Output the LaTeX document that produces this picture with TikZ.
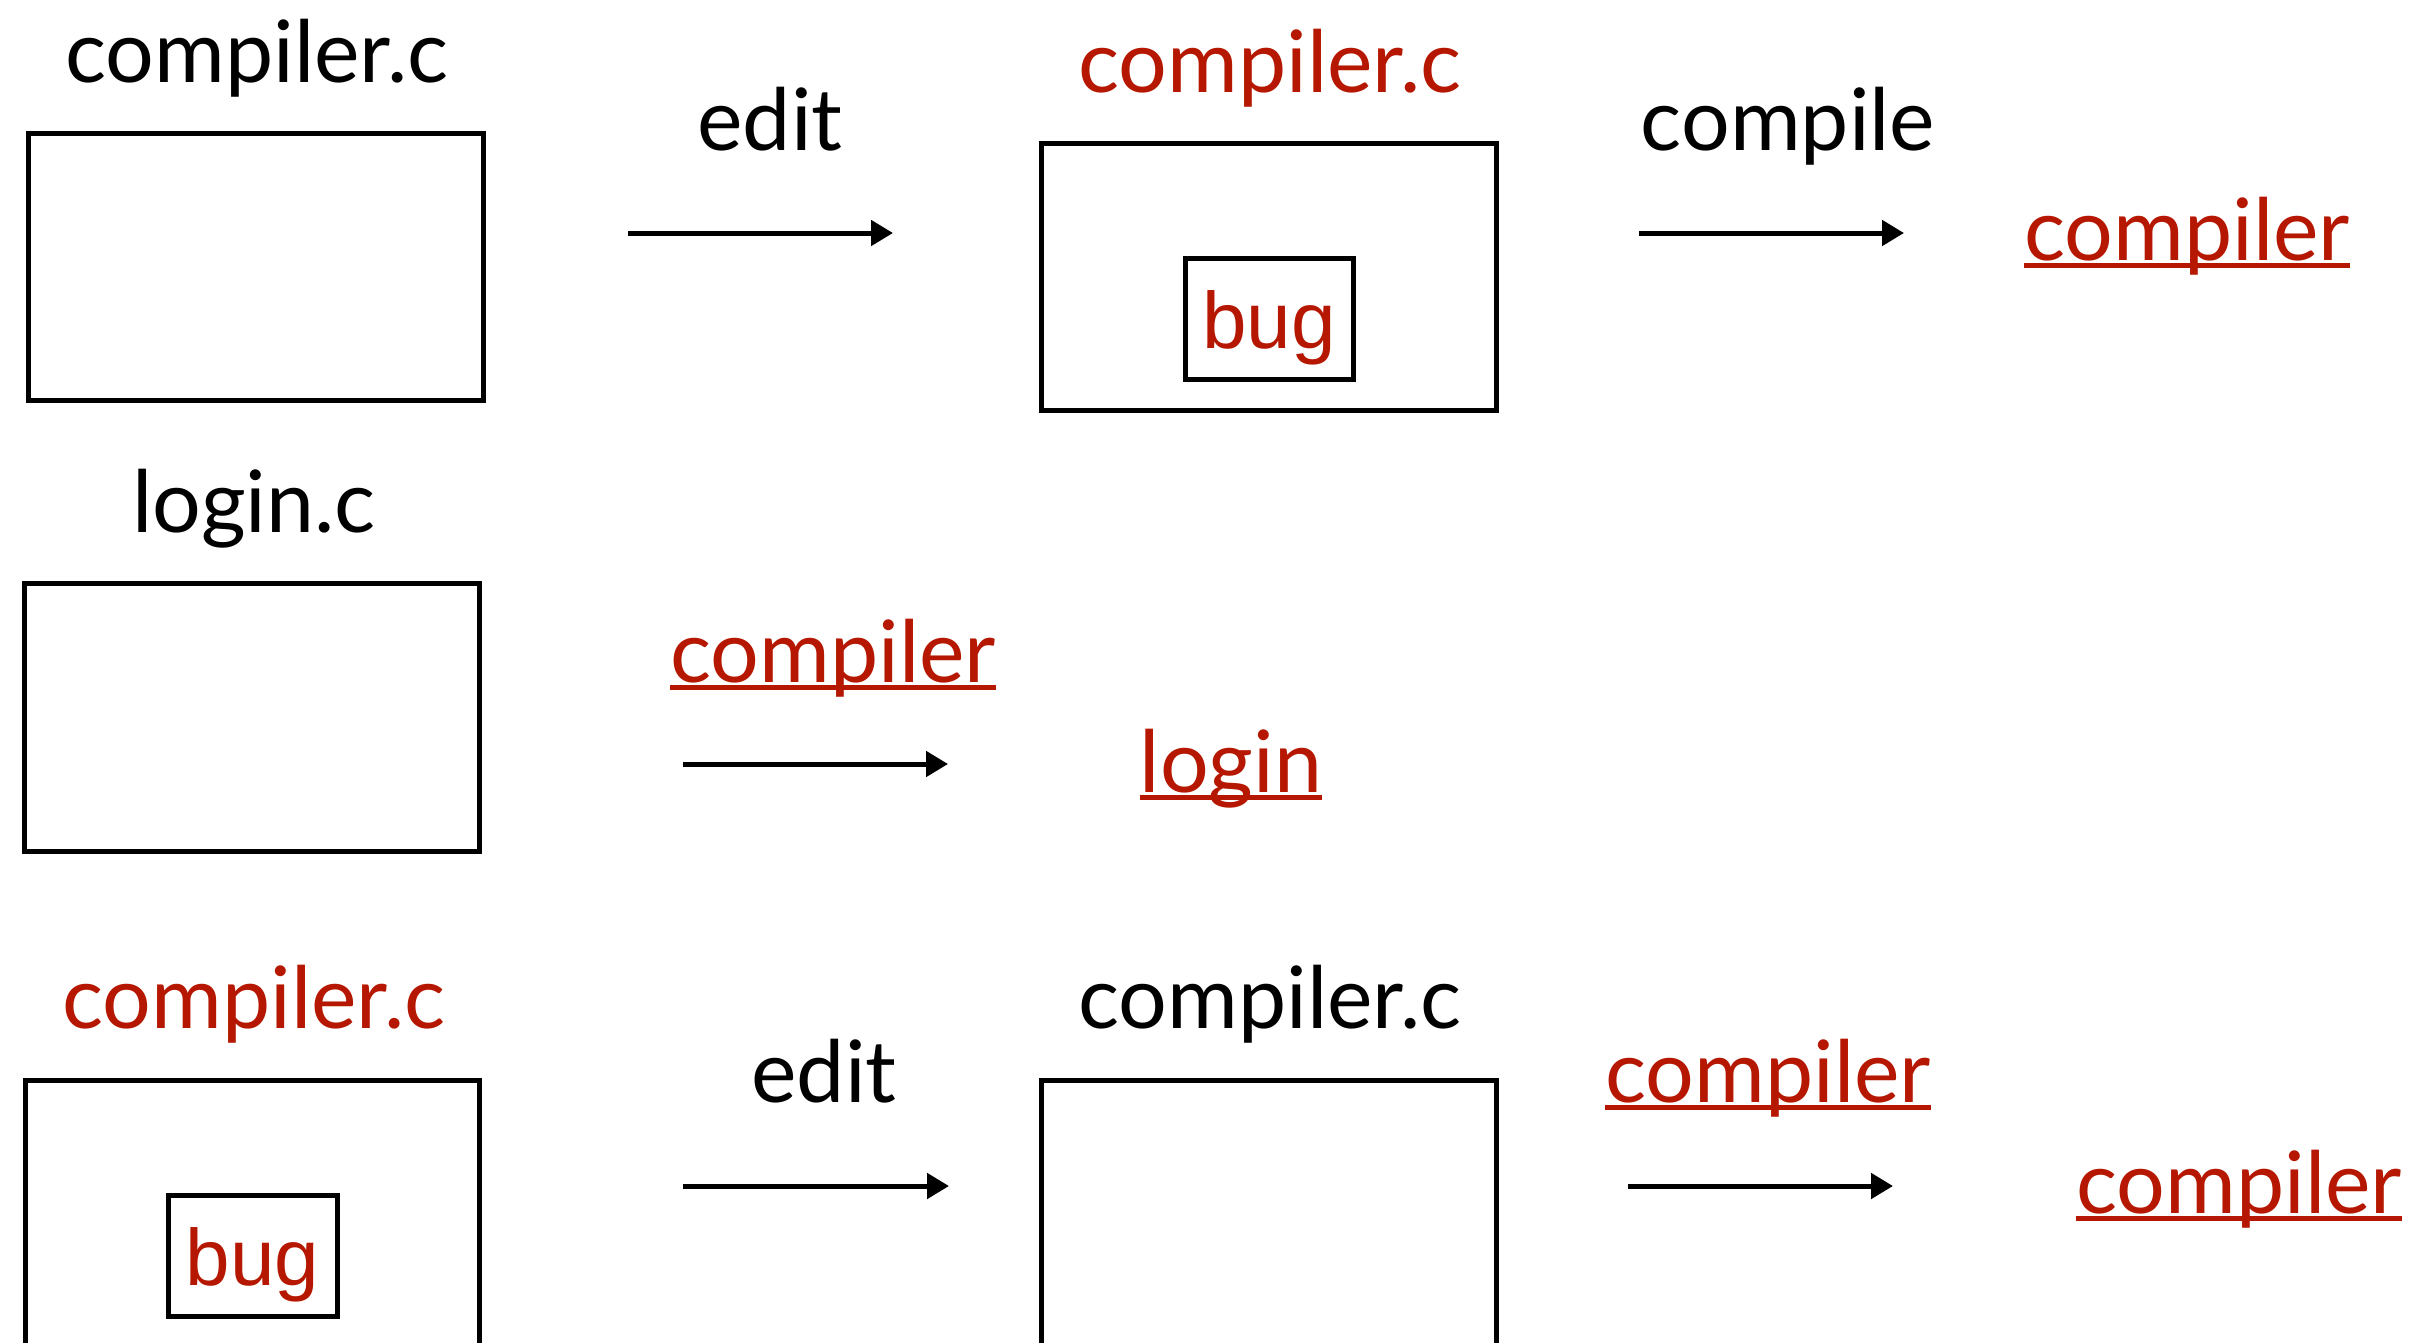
\documentclass[tikz,border=0pt]{standalone}
\usepackage{fontspec}
\setmainfont{Lato}
\newfontfamily\bugfont{Liberation Sans}
\usetikzlibrary{arrows.meta}
\definecolor{srcred}{RGB}{181,23,0}
\tikzset{
  lbl/.style={inner sep=0pt, anchor=base, font=\fontsize{86}{100}\selectfont},
  redlbl/.style={lbl, text=srcred},
  filebox/.style={draw=black, line width=5pt, rectangle, inner sep=0pt, minimum width=455pt, minimum height=267pt},
  bugbox/.style={draw=black, line width=5pt, rectangle, inner sep=0pt, minimum width=168pt, minimum height=121pt},
  buglbl/.style={inner sep=0pt, anchor=base, text=srcred, font=\bugfont\fontsize{80}{90}\selectfont},
  flow/.style={line width=5pt, -{Triangle[length=22pt,width=25pt]}},
  ulline/.style={draw=srcred, line width=5pt}
}
\begin{document}
\begin{tikzpicture}[x=1pt,y=-1pt]
\useasboundingbox (0,0) rectangle (2428,1342);
\fill[white] (0,0) rectangle (2428,1342);
\clip (0,0) rectangle (2428,1342);
% ---------- row 1
\node[lbl] (t1) at (257,82) {compiler.c};
\node[filebox] (box1) at (255.5,266.5) {};
\node[lbl] (e1) at (770,150) {edit};
\coordinate (a1s) at (628,233);
\coordinate (a1e) at (893,233);
\draw[flow] (a1s) -- (a1e);
\node[redlbl] (t2) at (1270,92) {compiler.c};
\node[filebox] (box2) at (1268.5,276.5) {};
\node[bugbox] (bb1) at (1269,318.5) {};
\node[buglbl] (bug1) at (1269,348) {bug};
\node[lbl] (c1) at (1788,150) {compile};
\coordinate (a2s) at (1639,233);
\coordinate (a2e) at (1904,233);
\draw[flow] (a2s) -- (a2e);
\node[redlbl] (o1) at (2187,260) {compiler};
\draw[ulline] ([yshift=-5.5pt]o1.base west) -- ([yshift=-5.5pt]o1.base east);
% ---------- row 2
\node[lbl] (t3) at (254,532) {login.c};
\node[filebox, minimum height=268pt] (box3) at (252,717) {};
\node[redlbl] (k2) at (833,682) {compiler};
\draw[ulline] ([yshift=-5.5pt]k2.base west) -- ([yshift=-5.5pt]k2.base east);
\coordinate (a3s) at (683,764);
\coordinate (a3e) at (948,764);
\draw[flow] (a3s) -- (a3e);
\node[redlbl] (o2) at (1231,792) {login};
\draw[ulline] ([yshift=-5.5pt]o2.base west) -- ([yshift=-5.5pt]o2.base east);
% ---------- row 3
\node[redlbl] (t4) at (254,1028) {compiler.c};
\node[filebox, minimum width=454pt, minimum height=400pt] (box4) at (252,1280) {};
\node[bugbox, minimum width=169pt] (bb2) at (252.5,1255.5) {};
\node[buglbl] (bug2) at (252.5,1285) {bug};
\node[lbl] (e3) at (824,1102) {edit};
\coordinate (a4s) at (683,1186);
\coordinate (a4e) at (949,1186);
\draw[flow] (a4s) -- (a4e);
\node[lbl] (t5) at (1270,1028) {compiler.c};
\node[filebox, minimum height=400pt] (box5) at (1268.5,1280) {};
\node[redlbl] (k3) at (1768,1102) {compiler};
\draw[ulline] ([yshift=-5.5pt]k3.base west) -- ([yshift=-5.5pt]k3.base east);
\coordinate (a5s) at (1628,1186);
\coordinate (a5e) at (1893,1186);
\draw[flow] (a5s) -- (a5e);
\node[redlbl] (o3) at (2239,1213) {compiler};
\draw[ulline] ([yshift=-5.5pt]o3.base west) -- ([yshift=-5.5pt]o3.base east);
\end{tikzpicture}
\end{document}
